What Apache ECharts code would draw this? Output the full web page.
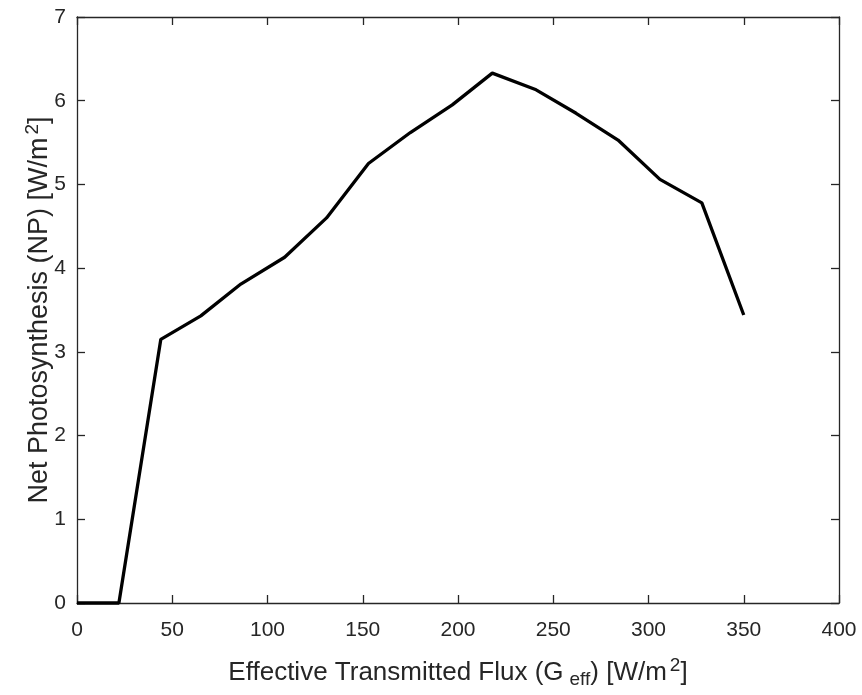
<!DOCTYPE html>
<html>
<head>
<meta charset="utf-8">
<title>Net Photosynthesis</title>
<script src="https://cdn.jsdelivr.net/npm/echarts@6/dist/echarts.min.js"></script>
<style>
  html, body { margin: 0; padding: 0; background: #fff; }
  #chart { width: 862px; height: 695px; }
</style>
</head>
<body>
<div id="chart"></div>
<script>
// effective transmitted flux G_eff [W/m2]
var fluxValues = [0, 22, 44, 65, 86, 109, 131, 153, 175, 197, 218, 241, 262, 284, 306, 328, 350];
// net photosynthesis NP [W/m2]
var npValues = [0, 0, 3.15, 3.43, 3.81, 4.13, 4.60, 5.25, 5.62, 5.95, 6.33, 6.13, 5.85, 5.53, 5.06, 4.78, 3.44];

var xTicks = [0, 50, 100, 150, 200, 250, 300, 350, 400];
var yTicks = [0, 1, 2, 3, 4, 5, 6, 7];

var axisColor = '#262626';
var fontFam = '"Liberation Sans", Arial, Helvetica, sans-serif';

var myChart = echarts.init(document.getElementById('chart'));

// 把数据拼成 [x, y]
var seriesData = fluxValues.map(function (x, i) {
    return [x, npValues[i]];
});

// 公共坐标轴样式 (MATLAB 风格，刻度朝内)
function baseAxis(extra) {
    var ax = {
        type: 'value',
        axisLine: { show: true, onZero: false, lineStyle: { color: axisColor, width: 1.3 } },
        axisTick: { show: true, inside: true, length: 8, lineStyle: { color: axisColor, width: 1.3 } },
        splitLine: { show: false },
        axisLabel: { show: false }
    };
    for (var k in extra) ax[k] = extra[k];
    return ax;
}

// 上下标样式
var supStyle = { fontSize: 19, color: axisColor, fontFamily: fontFam, padding: [0, 0, 15, 3] };
var subStyle = { fontSize: 19, color: axisColor, fontFamily: fontFam, padding: [14, 0, 0, 6] };

myChart.setOption({
    backgroundColor: '#fff',
    animation: false,
    grid: { left: 77, right: 23, top: 17, bottom: 92 },
    xAxis: [
        baseAxis({
            position: 'bottom',
            min: xTicks[0], max: xTicks[xTicks.length - 1], interval: 50,
            axisLabel: { show: true, color: axisColor, fontSize: 21, fontFamily: fontFam, margin: 17 },
            name: 'Effective Transmitted Flux (G{sub|eff}) [W/m{sup|2}]',
            nameLocation: 'middle',
            nameMoveOverlap: false,
            nameGap: 53,
            nameTextStyle: {
                color: axisColor, fontSize: 26, fontFamily: fontFam,
                rich: { sub: subStyle, sup: supStyle }
            }
        }),
        baseAxis({
            position: 'top',
            min: xTicks[0], max: xTicks[xTicks.length - 1], interval: 50
        })
    ],
    yAxis: [
        baseAxis({
            position: 'left',
            min: yTicks[0], max: yTicks[yTicks.length - 1], interval: 1,
            axisLabel: { show: true, color: axisColor, fontSize: 21, fontFamily: fontFam, margin: 11 },
            name: 'Net Photosynthesis (NP) [W/m{sup|2}]',
            nameLocation: 'middle',
            nameMoveOverlap: false,
            nameGap: 20,
            nameTextStyle: {
                color: axisColor, fontSize: 27, fontFamily: fontFam,
                rich: { sup: supStyle }
            }
        }),
        baseAxis({
            position: 'right',
            min: yTicks[0], max: yTicks[yTicks.length - 1], interval: 1
        })
    ],
    series: [{
        type: 'line',
        xAxisIndex: 0,
        yAxisIndex: 0,
        data: seriesData,
        showSymbol: false,
        clip: false,
        lineStyle: { color: '#000', width: 3.3 },
        z: 5
    }]
});

window.addEventListener('resize', function () {
    myChart.resize();
});
</script>
</body>
</html>
